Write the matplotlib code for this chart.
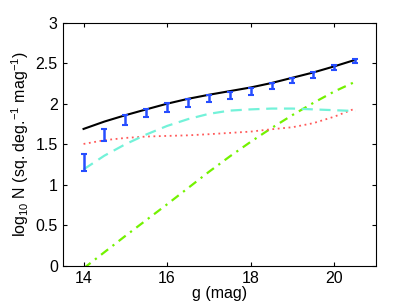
import matplotlib
matplotlib.use("Agg")
import matplotlib.pyplot as plt

plt.rcParams['font.family'] = ['Liberation Sans', 'DejaVu Sans']
plt.rcParams['mathtext.fontset'] = 'custom'
plt.rcParams['mathtext.rm'] = 'Liberation Sans'

# observed counts with error bars
g_obs = [14, 14.5, 15, 15.5, 16, 16.5, 17, 17.5, 18, 18.5, 19, 19.5, 20, 20.5]
n_obs = [1.28, 1.615, 1.795, 1.887, 1.952, 2.01, 2.06, 2.106, 2.149, 2.215, 2.285, 2.357, 2.448, 2.53]
n_err = [0.105, 0.07, 0.06, 0.053, 0.057, 0.051, 0.043, 0.043, 0.041, 0.037, 0.033, 0.035, 0.031, 0.027]

# model curves
g_mod = [14, 14.5, 15, 15.5, 16, 16.5, 17, 17.5, 18, 18.5, 19, 19.5, 20, 20.5]
total = [1.689, 1.78, 1.858, 1.93, 2.0, 2.06, 2.11, 2.155, 2.20, 2.255, 2.32, 2.385, 2.46, 2.54]
comp_cyan = [1.19, 1.36, 1.50, 1.62, 1.726, 1.81, 1.875, 1.915, 1.93, 1.94, 1.94, 1.93, 1.92, 1.91]
comp_red = [1.504, 1.55, 1.578, 1.595, 1.603, 1.61, 1.624, 1.64, 1.656, 1.685, 1.71, 1.76, 1.84, 1.94]
comp_green = [-0.03, 0.17, 0.37, 0.565, 0.76, 0.96, 1.16, 1.35, 1.53, 1.70, 1.86, 2.01, 2.15, 2.27]

fig = plt.figure(figsize=(4.15, 3.05), dpi=100)
ax = fig.add_axes([0.151, 0.128, 0.755, 0.798])

ax.plot(g_mod, comp_green, color=(0.45, 0.95, 0.0), linestyle='-.', linewidth=1.6, dashes=(4, 2.5, 1, 2.5))
ax.plot(g_mod, comp_red, color=(1.0, 0.35, 0.35), linestyle=':', linewidth=1.3, dashes=(1, 2))
ax.plot(g_mod, comp_cyan, color=(0.45, 0.95, 0.85), linestyle='--', linewidth=1.6, dashes=(5, 3))
ax.plot(g_mod, total, color='black', linewidth=1.5)
ax.errorbar(g_obs, n_obs, yerr=n_err, fmt='none', ecolor=(0.15, 0.3, 1.0),
            elinewidth=1.8, capsize=2.5, capthick=1.5)

ax.set_xlim(13.5, 21)
ax.set_ylim(0, 3)
ax.set_xticks([14, 16, 18, 20])
ax.set_yticks([0, 0.5, 1, 1.5, 2, 2.5, 3])
ax.set_yticklabels(['0', '0.5', '1', '1.5', '2', '2.5', '3'])
ax.tick_params(direction='in', top=True, right=True, labelsize=11.5, length=3)
ax.set_xlabel('g (mag)', fontsize=11.5, labelpad=0)
ax.set_ylabel(r'log$_{10}$ N (sq. deg.$^{-1}$ mag$^{-1}$)', fontsize=11.5, labelpad=3)

fig.savefig('out.png', dpi=100)
